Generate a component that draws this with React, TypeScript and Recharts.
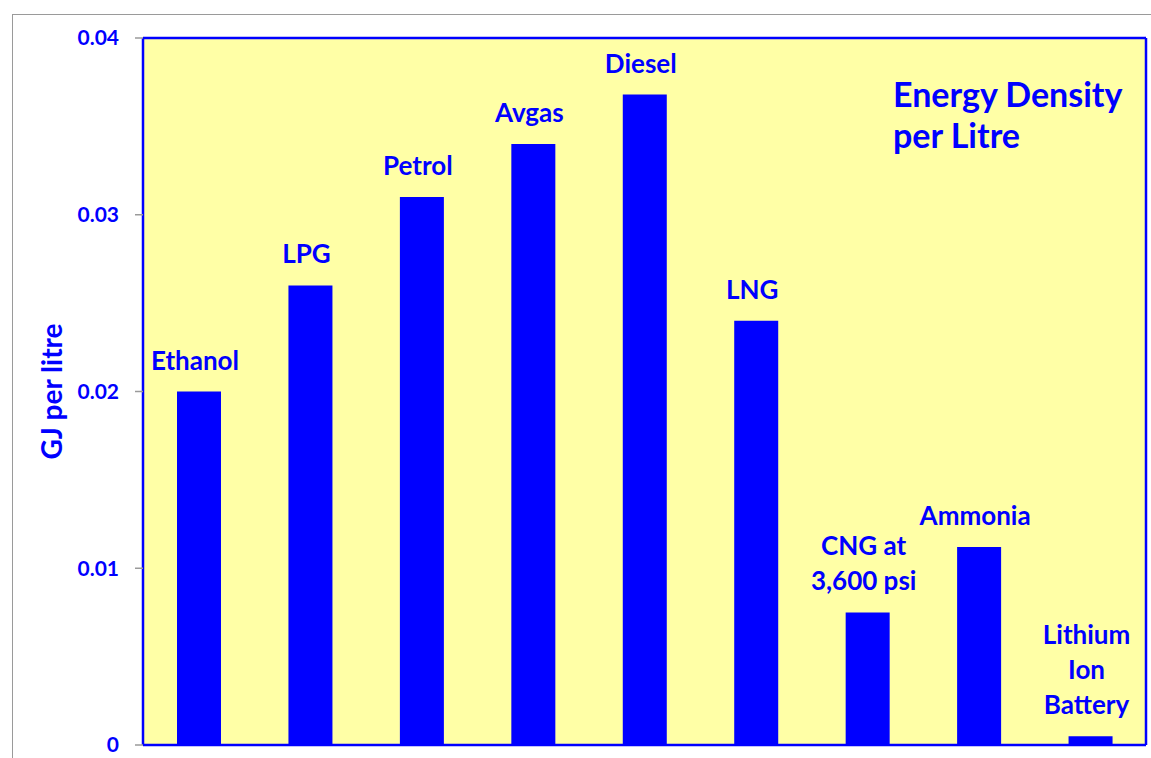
import React from "react";
import { BarChart, Bar, XAxis, YAxis, CartesianGrid, LabelList } from "recharts";

const fuels = ["Ethanol", "LPG", "Petrol", "Avgas", "Diesel", "LNG", "CNG", "Ammonia", "Lithium Ion Battery"];
const gjPerLitre = [0.02, 0.026, 0.031, 0.034, 0.0368, 0.024, 0.0075, 0.0112, 0.0005];
const barLabels = [
  ["Ethanol"],
  ["LPG"],
  ["Petrol"],
  ["Avgas"],
  ["Diesel"],
  ["LNG"],
  ["CNG at", "3,600 psi"],
  ["Ammonia"],
  ["Lithium", "Ion", "Battery"],
];
const yTicks = [0, 0.01, 0.02, 0.03, 0.04];

const BLUE = "#0000FF";
const FONT = "Lato, 'Open Sans', sans-serif";

const data = fuels.map((name, i) => ({ name, value: gjPerLitre[i] }));

function BarLabel(props: any) {
  const { x, y, width, index } = props;
  const lines = barLabels[index] || [];
  const cx = Number(x) + Number(width) / 2 - 4;
  const lastBaseline = Number(y) - 22;
  return (
    <text textAnchor="middle" fill={BLUE} fontFamily={FONT} fontWeight={700} fontSize={26}>
      {lines.map((ln, k) => (
        <tspan key={k} x={cx} y={lastBaseline - (lines.length - 1 - k) * 35}>
          {ln}
        </tspan>
      ))}
    </text>
  );
}

function AxisTitle(props: any) {
  const vb = props.viewBox || {};
  const cy = (vb.y ?? 38) + (vb.height ?? 707) / 2;
  return (
    <text
      x={51}
      y={cy}
      transform={`rotate(-90, 51, ${cy})`}
      textAnchor="middle"
      dominantBaseline="central"
      fill={BLUE}
      fontFamily={FONT}
      fontWeight={700}
      fontSize={28}
    >
      GJ per litre
    </text>
  );
}

const frameLine = { stroke: BLUE, strokeWidth: 2.5 };

export default function App() {
  return (
    <div
      style={{
        position: "absolute",
        left: 0,
        top: 0,
        width: 1151,
        height: 758,
        overflow: "hidden",
        background: "#fff",
        fontFamily: FONT,
      }}
    >
      <div
        style={{
          position: "absolute",
          left: 12,
          top: 14,
          width: 1300,
          height: 900,
          border: "1.5px solid #9a9a9a",
        }}
      />
      <div style={{ position: "absolute", left: 0, top: 0 }}>
        <BarChart width={1151} height={758} data={data} margin={{ top: 37, right: 4, bottom: 12, left: 0 }}>
          <CartesianGrid fill="#FFFFA6" stroke="none" horizontal={false} vertical={false} />
          <XAxis dataKey="name" tick={false} tickLine={false} height={1} axisLine={frameLine} />
          <XAxis
            xAxisId="top"
            dataKey="name"
            orientation="top"
            tick={false}
            tickLine={false}
            height={1}
            axisLine={frameLine}
          />
          <YAxis
            domain={[0, 0.04]}
            ticks={yTicks}
            width={143}
            tickSize={8}
            tickMargin={16}
            tickLine={{ stroke: "#9a9a9a", strokeWidth: 1.5 }}
            axisLine={frameLine}
            tick={{ fill: BLUE, fontSize: 21, fontWeight: 700, fontFamily: FONT }}
            tickFormatter={(v: number) => (v === 0 ? "0" : String(v))}
            interval={0}
            label={<AxisTitle />}
          />
          <YAxis
            yAxisId="right"
            orientation="right"
            domain={[0, 0.04]}
            width={1}
            tick={false}
            tickLine={false}
            axisLine={frameLine}
          />
          <Bar dataKey="value" fill={BLUE} barSize={44} isAnimationActive={false}>
            <LabelList dataKey="name" content={<BarLabel />} />
          </Bar>
        </BarChart>
      </div>
      <svg width={1151} height={758} style={{ position: "absolute", left: 0, top: 0, pointerEvents: "none" }}>
        <text fill={BLUE} fontFamily={FONT} fontWeight={700} fontSize={34}>
          <tspan x={893} y={107}>Energy Density</tspan>
          <tspan x={893} y={148}>per Litre</tspan>
        </text>
      </svg>
    </div>
  );
}
